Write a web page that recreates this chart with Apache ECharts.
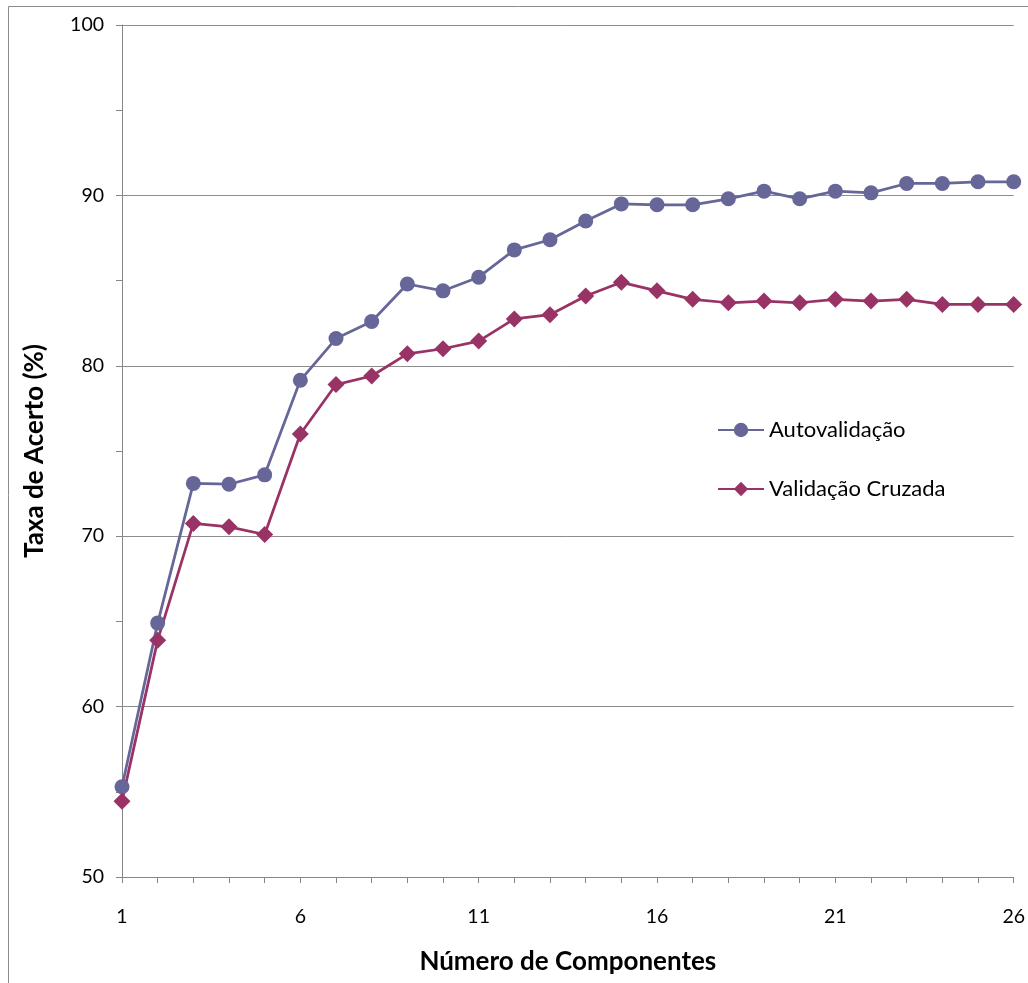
<!DOCTYPE html>
<html>
<head>
<meta charset="utf-8">
<script src="https://cdn.jsdelivr.net/npm/echarts@6/dist/echarts.min.js"></script>
<style>
html,body{margin:0;padding:0;background:#fff;}
#chart{width:1028px;height:983px;}
</style>
</head>
<body>
<div id="chart"></div>
<script>
const categories = ['1','2','3','4','5','6','7','8','9','10','11','12','13','14','15','16','17','18','19','20','21','22','23','24','25','26'];
const autovalidacao = [55.3,64.9,73.1,73.05,73.6,79.15,81.6,82.6,84.8,84.4,85.2,86.8,87.4,88.5,89.5,89.45,89.45,89.8,90.25,89.8,90.25,90.15,90.7,90.7,90.8,90.8];
const validacaoCruzada = [54.45,63.9,70.75,70.55,70.1,76.0,78.9,79.4,80.7,81.0,81.45,82.75,83.0,84.1,84.9,84.4,83.9,83.7,83.8,83.7,83.9,83.8,83.9,83.6,83.6,83.6];
const yTicks = [50,60,70,80,90,100];

const font = 'Lato, "Liberation Sans", sans-serif';
const chart = echarts.init(document.getElementById('chart'), null, {renderer:'canvas'});
chart.setOption({
  animation:false,
  backgroundColor:'#fff',
  graphic:[{type:'rect',shape:{x:8.5,y:6.5,width:1100,height:1100},style:{fill:'none',stroke:'#8c8c8c',lineWidth:1},silent:true,z:-1}],
  grid:{left:122,top:25,width:896,height:852,containLabel:false},
  legend:{
    orient:'vertical',left:712,top:414,itemGap:37,itemWidth:46,itemHeight:18,
    textStyle:{fontFamily:font,fontSize:22,color:'#000'},
    data:['Autovalidação','Validação Cruzada']
  },
  xAxis:{
    type:'category',data:categories,boundaryGap:false,
    name:'Número de Componentes',nameLocation:'middle',nameGap:72,
    nameTextStyle:{fontFamily:font,fontSize:26,fontWeight:'bold',color:'#000'},
    axisLine:{lineStyle:{color:'#868686',width:1}},
    axisTick:{show:true,interval:0,length:6,lineStyle:{color:'#868686'}},
    axisLabel:{interval:4,margin:30,fontFamily:font,fontSize:19.5,color:'#000'},
    splitLine:{show:false}
  },
  yAxis:{
    type:'value',min:yTicks[0],max:yTicks[yTicks.length-1],interval:10,
    name:'Taxa de Acerto (%)',nameLocation:'middle',nameGap:74,
    nameTextStyle:{fontFamily:font,fontSize:26,fontWeight:'bold',color:'#000'},
    axisLine:{show:true,lineStyle:{color:'#868686',width:1}},
    axisTick:{show:true,length:6,lineStyle:{color:'#868686'}},
    minorTick:{show:true,splitNumber:2,length:6,lineStyle:{color:'#868686'}},
    axisLabel:{margin:18,fontFamily:font,fontSize:19.5,color:'#000'},
    splitLine:{show:true,lineStyle:{color:'#8c8c8c',width:1}}
  },
  series:[
    {name:'Autovalidação',type:'line',data:autovalidacao,symbol:'circle',symbolSize:15,
     itemStyle:{color:'#666699'},lineStyle:{color:'#666699',width:2.75}},
    {name:'Validação Cruzada',type:'line',data:validacaoCruzada,symbol:'diamond',symbolSize:17,
     itemStyle:{color:'#993366'},lineStyle:{color:'#993366',width:2.75}}
  ]
});
</script>
</body>
</html>
